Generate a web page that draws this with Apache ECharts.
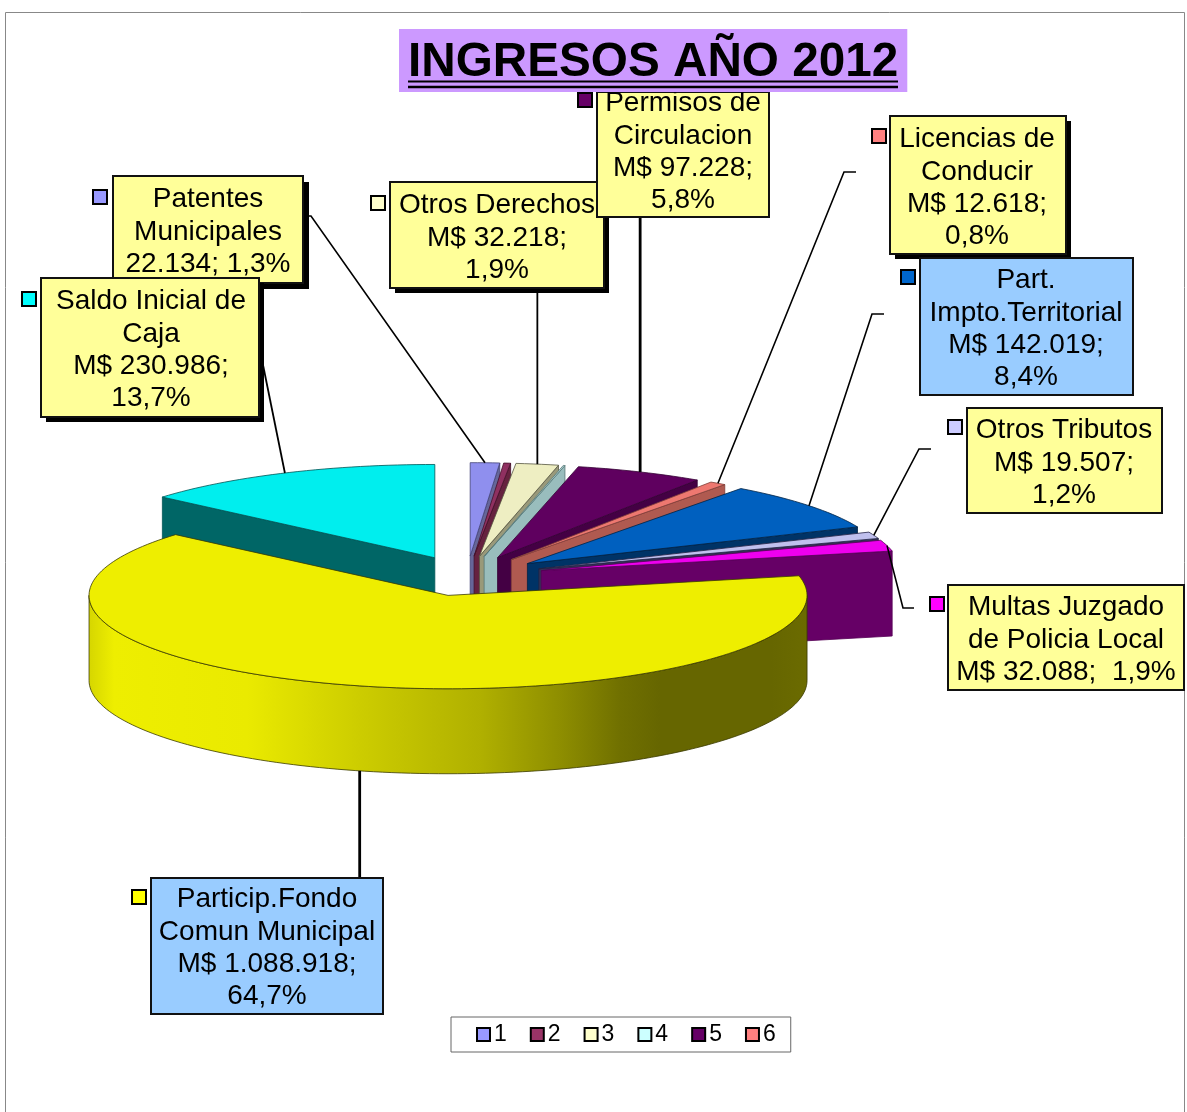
<!DOCTYPE html>
<html><head><meta charset="utf-8">
<style>html,body{margin:0;padding:0;background:#fff}#c{width:1187px;height:1112px}</style>
<script src="https://cdn.jsdelivr.net/npm/echarts@6/dist/echarts.min.js"></script>
</head><body><div id="c"></div>
<script>
// ---------- data ----------
var seriesNames = ['1','2','3','4','5','6','7','8','9','10','11'];
var sliceNames = ['Patentes Municipales','(sin rotulo 2)','Otros Derechos','(sin rotulo 4)','Permisos de Circulacion','Licencias de Conducir','Part. Impto.Territorial','Otros Tributos','Multas Juzgado de Policia Local','Particip.Fondo Comun Municipal','Saldo Inicial de Caja'];
var sliceValues = [22134,5200,32218,1300,97228,12618,142019,19507,32088,1088918,230986];
var legendNames = ['1','2','3','4','5','6'];
var titleText = 'INGRESOS AÑO 2012';
var labelTexts = [
 'Patentes\nMunicipales\n22.134; 1,3%',
 null,
 'Otros Derechos\nM$ 32.218;\n1,9%',
 null,
 'Permisos de\nCirculacion\nM$ 97.228;\n5,8%',
 'Licencias de\nConducir\nM$ 12.618;\n0,8%',
 'Part.\nImpto.Territorial\nM$ 142.019;\n8,4%',
 'Otros Tributos\nM$ 19.507;\n1,2%',
 'Multas Juzgado\nde Policia Local\nM$ 32.088;  1,9%',
 'Particip.Fondo\nComun Municipal\nM$ 1.088.918;\n64,7%',
 'Saldo Inicial de\nCaja\nM$ 230.986;\n13,7%'
];
// ---------- styles ----------
var legendColors = ['#9999FF','#993366','#FFFFCC','#CCFFFF','#660066','#FF8080','#0066CC','#CCCCFF','#FF00FF','#FFFF00','#00FFFF'];
var topColors  = ['#8F8FEE','#8F3060','#EEEEC2','#B8DEDE','#5F005F','#EE7870','#0060BF','#C0C0EE','#EE00EE','#EEEE00','#00EEEE'];
var sideColors = ['#666699','#66223F','#99997A','#99BDBD','#440044','#B05A50','#003366','#333355','#660066','#EEEE00','#006666'];
var edgeColors = ['#444477','#441029','#555540','#557777','#330033','#80403A','#002244','#222244','#550055','#3A3A00','#005555'];
var yellowWallStops = [[0,'#D6D600'],[0.035,'#EEEE00'],[0.22,'#EAEA00'],[0.38,'#CCCC00'],[0.545,'#B0B000'],[0.656,'#8E8E00'],[0.74,'#707000'],[0.795,'#666600'],[0.95,'#666600'],[1,'#6B6B00']];
// ---------- pie layout ----------
var cx=467, cy=576, R=359, kY=0.26, depth=85, explode=77;
var total = sliceValues.reduce(function(a,b){return a+b;},0);
var ranges=[], acc=0;
sliceValues.forEach(function(v){ var a=acc/total*360; acc+=v; ranges.push([a,acc/total*360]); });
var rad=function(d){return d*Math.PI/180;};
function apexOf(i){ var m=rad((ranges[i][0]+ranges[i][1])/2); return [cx+explode*Math.sin(m), cy-explode*kY*Math.cos(m)]; }
function rimPt(a,deg,dz){ return [a[0]+R*Math.sin(rad(deg)), a[1]-R*kY*Math.cos(rad(deg))+(dz||0)]; }
function arcPts(a,d1,d2,dz){ var n=Math.max(2,Math.ceil(Math.abs(d2-d1)/1.5)),o=[]; for(var j=0;j<=n;j++) o.push(rimPt(a,d1+(d2-d1)*j/n,dz)); return o; }

function poly(points,fill,stroke,lw){ return {type:'polygon',shape:{points:points},style:{fill:fill,stroke:stroke,lineWidth:lw===undefined?0.8:lw,lineJoin:'round'}}; }
function makeRender(i){
  return function(params,api){
    var a=apexOf(i), t1=ranges[i][0], t2=ranges[i][1], kids=[], edge=edgeColors[i], side=sideColors[i];
    // start wall
    if(t1>=180 && t1<360){ var p=rimPt(a,t1); kids.push(poly([a,p,[p[0],p[1]+depth],[a[0],a[1]+depth]],side,edge)); }
    // end wall
    if(t2>0 && t2<=180){ var q=rimPt(a,t2); kids.push(poly([a,q,[q[0],q[1]+depth],[a[0],a[1]+depth]],side,edge)); }
    // outer wall
    var w1=Math.max(t1,90), w2=Math.min(t2,270);
    if(w2>w1){
      var top=arcPts(a,w1,w2,0), bot=arcPts(a,w2,w1,depth);
      var fill = i===9 ? new echarts.graphic.LinearGradient(a[0]-R,0,a[0]+R,0,yellowWallStops.map(function(s){return {offset:s[0],color:s[1]};}),true) : side;
      kids.push(poly(top.concat(bot),fill,edge));
    }
    // top face
    kids.push(poly([a].concat(arcPts(a,t1,t2,0)),topColors[i],edge));
    return {type:'group',children:kids};
  };
}
var drawOrder=[0,1,2,3,4,5,6,7,8,10,9];
var series=drawOrder.map(function(i,pos){
  return {type:'custom',name:seriesNames[i],coordinateSystem:'none',silent:true,z:2+pos,
    data:[[sliceValues[i]]],itemStyle:{color:legendColors[i]},renderItem:makeRender(i),animation:false};
});
// ---------- callout layout ----------
var boxLayout={
 0:{b:[113,176,190,107],tx:208,ty:232,sh:6,fill:'#FFFF99',m:[93,190]},
 10:{b:[41,278,218,139],tx:151,ty:350,sh:5,fill:'#FFFF99',m:[22,292]},
 2:{b:[390,182,214,106],tx:497,ty:238,sh:5,fill:'#FFFF99',m:[371,196]},
 4:{b:[597,92,172,125],tx:683,ty:152,sh:0,fill:'#FFFF99',m:[578,93]},
 5:{b:[890,116,176,138],tx:977,ty:188,sh:5,fill:'#FFFF99',m:[872,129]},
 6:{b:[920,258,213,137],tx:1026,ty:329,sh:0,fill:'#99CCFF',m:[901,270]},
 7:{b:[967,408,195,105],tx:1064,ty:463,sh:0,fill:'#FFFF99',m:[948,420]},
 8:{b:[948,585,236,105],tx:1066,ty:640,sh:0,fill:'#FFFF99',m:[930,597]},
 9:{b:[151,878,232,136],tx:267,ty:948,sh:0,fill:'#99CCFF',m:[132,890]}
};
var boxOrder=[0,10,2,4,5,6,7,8,9];
var leaderStart={0:[[303,216],[311,216]],10:[[262,360]],5:[[856,172],[844,172]],6:[[884,314],[872,314]],7:[[931,449],[919,449]],8:[[914,608],[903,608]]};
var leaderW={0:1.6,10:1.8,2:1.8,4:2.8,5:1.6,6:1.6,7:1.6,8:1.6,9:2.8};
var verticalTop={2:288,4:217};
var graphics=[];
graphics.push({type:'rect',z:1,silent:true,shape:{x:5.5,y:12.5,width:1179,height:1130},style:{fill:'none',stroke:'#888',lineWidth:1}});
boxOrder.forEach(function(i){
  var a=apexOf(i), mid=(ranges[i][0]+ranges[i][1])/2, end, pts;
  if(i===9){ end=rimPt(a,mid,depth); pts=[end,[end[0],878]]; }
  else if(verticalTop[i]){ end=rimPt(a,mid); pts=[[end[0],verticalTop[i]],end]; }
  else { end=rimPt(a,mid); pts=leaderStart[i].concat([end]); }
  graphics.push({type:'polyline',z:20,silent:true,shape:{points:pts},style:{fill:'none',stroke:'#000',lineWidth:leaderW[i]}});
});
boxOrder.forEach(function(i,pos){
  var L=boxLayout[i], b=L.b, z=30+pos*2;
  if(L.sh) graphics.push({type:'rect',z:z,silent:true,shape:{x:b[0]+L.sh,y:b[1]+L.sh,width:b[2],height:b[3]},style:{fill:'#000'}});
  graphics.push({type:'rect',z:z,silent:true,shape:{x:b[0],y:b[1],width:b[2],height:b[3]},style:{fill:L.fill,stroke:'#111',lineWidth:2}});
  graphics.push({type:'rect',z:z,silent:true,shape:{x:L.m[0],y:L.m[1],width:14,height:14},style:{fill:legendColors[i],stroke:'#000',lineWidth:2}});
  graphics.push({type:'text',z:z+1,silent:true,style:{x:L.tx,y:L.ty,text:labelTexts[i],fill:'#000',align:'center',verticalAlign:'middle',fontFamily:'"Liberation Sans"',fontSize:28,lineHeight:32.3}});
});
graphics.push({type:'line',z:90,silent:true,shape:{x1:408,y1:81.5,x2:898,y2:81.5},style:{stroke:'#000',lineWidth:2}});
graphics.push({type:'line',z:90,silent:true,shape:{x1:408,y1:87,x2:898,y2:87},style:{stroke:'#000',lineWidth:2.6}});

var chart=echarts.init(document.getElementById('c'),null,{renderer:'canvas'});
chart.setOption({
  animation:false,backgroundColor:'#fff',
  title:{text:titleText,left:399,top:29,z:80,padding:[5,9,0,9],backgroundColor:'#CC99FF',
    textStyle:{fontFamily:'"Liberation Sans"',fontWeight:'bold',fontSize:47.7,color:'#000',lineHeight:58}},
  legend:{left:451,top:1017,orient:'horizontal',selectedMode:false,padding:[6,15,6,25],itemGap:23,itemWidth:13,itemHeight:13,
    borderColor:'#666',borderWidth:1,backgroundColor:'#fff',
    textStyle:{fontFamily:'"Liberation Sans"',fontSize:23,color:'#000',padding:[2,0,0,-1]},
    data:legendNames.map(function(n,i){return {name:n,icon:'rect',itemStyle:{color:legendColors[i],borderColor:'#000',borderWidth:2}};})},
  series:series,
  graphic:{elements:graphics}
});
</script></body></html>
